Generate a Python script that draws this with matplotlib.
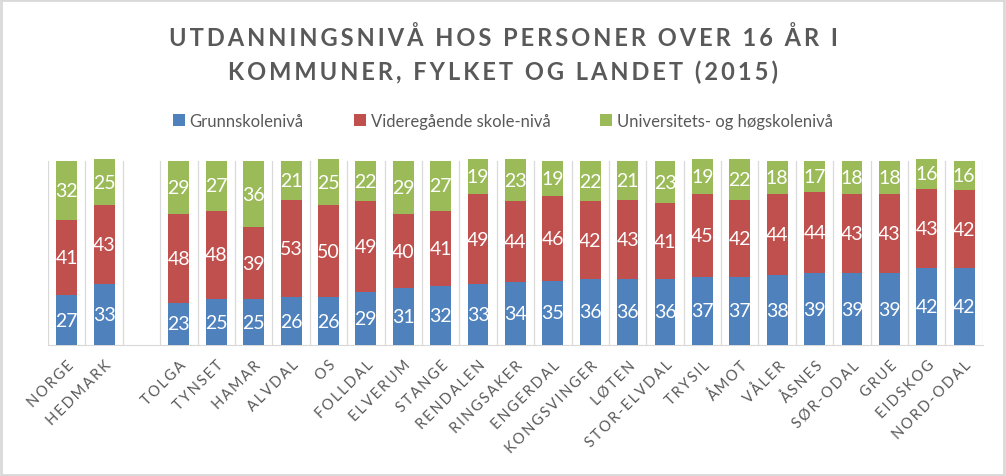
import matplotlib
matplotlib.use('Agg')
import matplotlib.pyplot as plt
from matplotlib.patches import Rectangle
import numpy as np

# --- data (percent) ---
places = ['Norge', 'Hedmark', '', 'Tolga', 'Tynset', 'Hamar', 'Alvdal', 'Os',
          'Folldal', 'Elverum', 'Stange', 'Rendalen', 'Ringsaker', 'Engerdal',
          'Kongsvinger', 'Løten', 'Stor-Elvdal', 'Trysil', 'Åmot', 'Våler',
          'Åsnes', 'Sør-Odal', 'Grue', 'Eidskog', 'Nord-Odal']
grunnskole = [27, 33, None, 23, 25, 25, 26, 26, 29, 31, 32, 33, 34, 35,
              36, 36, 36, 37, 37, 38, 39, 39, 39, 42, 42]
videregaende = [41, 43, None, 48, 48, 39, 53, 50, 49, 40, 41, 49, 44, 46,
                42, 43, 41, 45, 42, 44, 44, 43, 43, 43, 42]
universitet = [32, 25, None, 29, 27, 36, 21, 25, 22, 29, 27, 19, 23, 19,
               22, 21, 23, 19, 22, 18, 17, 18, 18, 16, 16]
series_names = ['Grunnskolenivå', 'Videregående skole-nivå',
                'Universitets- og høgskolenivå']
colors = ['#4F81BD', '#C0504D', '#9BBB59']
title_lines = ['UTDANNINGSNIVÅ HOS PERSONER OVER 16 ÅR I',
               'KOMMUNER, FYLKET OG LANDET (2015)']

TEXT = '#595959'
FONT = ['Lato', 'DejaVu Sans']


def spaced(s, sep='\u200a'):
    # poor man's letter spacing
    return sep.join(s)


fig = plt.figure(figsize=(10.06, 4.77), dpi=100)
fig.patches.append(Rectangle((0.001, 0.002), 0.997, 0.995, transform=fig.transFigure,
                             fill=False, edgecolor='#D9D9D9', linewidth=2))

ax = fig.add_axes([0.0477, 0.2746, 0.977 - 0.0477, 0.6604 - 0.2746])

x = np.arange(len(places))
bottom = np.zeros(len(places))
for vals, col, name in zip([grunnskole, videregaende, universitet], colors, series_names):
    v = np.array([0 if a is None else a for a in vals], dtype=float)
    ax.bar(x, v, 0.56, bottom=bottom, color=col, label=name, clip_on=False, zorder=3)
    for xi, yi, b in zip(x, v, bottom):
        if yi > 0:
            ax.text(xi, b + yi / 2, f'{int(yi)}', ha='center', va='center',
                    color='white', fontsize=14, family=FONT, zorder=4)
    bottom += v

ax.set_xlim(-0.5, len(places) - 0.5)
ax.set_ylim(0, 100)
for b in np.arange(-0.5, len(places), 1.0):
    ax.axvline(b, color='#D9D9D9', linewidth=0.9, zorder=1)

for s in ['top', 'right', 'left']:
    ax.spines[s].set_visible(False)
ax.spines['bottom'].set_color('#D9D9D9')
ax.set_yticks([])
ax.set_xticks(x)
ax.set_xticklabels([spaced(p.upper(), '\u2009') for p in places], rotation=45, ha='right',
                   rotation_mode='anchor', fontsize=10.5, color=TEXT, family=FONT)
ax.tick_params(axis='x', length=0, pad=9)

fig.text(0.5, 1 - 38 / 477, spaced(title_lines[0], '\u2009'), ha='center', va='center',
         fontsize=17, fontweight='bold', color=TEXT, family=FONT)
fig.text(0.5, 1 - 72 / 477, spaced(title_lines[1], '\u2009'), ha='center', va='center',
         fontsize=17, fontweight='bold', color=TEXT, family=FONT)

leg = fig.legend(loc='center', bbox_to_anchor=(0.5, 1 - 122 / 477), ncol=3, frameon=False,
                 handlelength=0.7, handleheight=0.7, handletextpad=0.3, columnspacing=3.0,
                 prop={'family': FONT, 'size': 12})
for t in leg.get_texts():
    t.set_color(TEXT)

fig.savefig('out.png', dpi=100)
